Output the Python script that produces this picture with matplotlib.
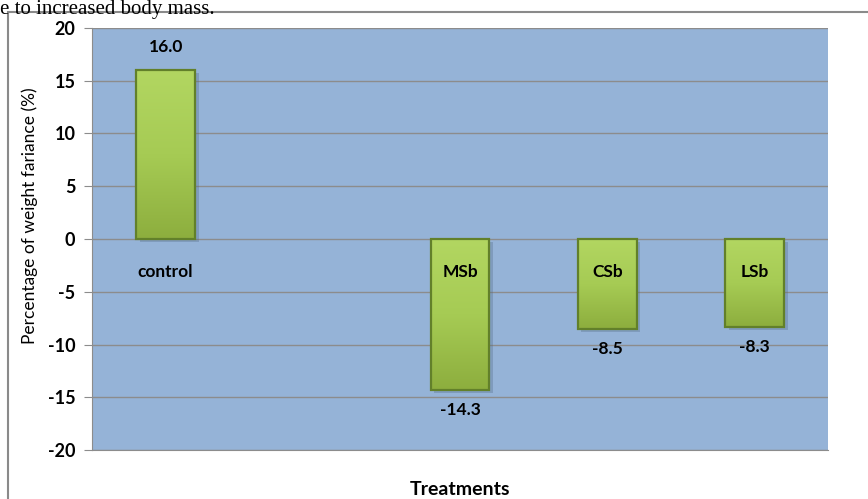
import numpy as np
import matplotlib.pyplot as plt
from matplotlib.patches import Rectangle
from matplotlib.colors import LinearSegmentedColormap

# data (second slot is empty in the original)
treatments = ['control', '', 'MSb', 'CSb', 'LSb']
values = [16.0, np.nan, -14.3, -8.5, -8.3]
yticks = [20, 15, 10, 5, 0, -5, -10, -15, -20]

plt.rcParams['font.family'] = ['Lato', 'DejaVu Sans']

fig = plt.figure(figsize=(8.68, 4.99), dpi=100)
ax = fig.add_axes([0.106, 0.098, 0.848, 0.846])

# outer chart frame and the caption line above it
fig.patches.append(Rectangle((8 / 868, -0.05), 1.0, 1 - 12 / 499 + 0.05,
                             transform=fig.transFigure, fill=False,
                             edgecolor='#8a8a8a', linewidth=1.5))
fig.text(0.0, 0.999, 'e to increased body mass.', family='Liberation Serif',
         fontsize=15, ha='left', va='top')

ax.set_facecolor('#95B3D7')
green = LinearSegmentedColormap.from_list('g', ['#8DAE3E', '#A6CB54', '#B2D661'])
grad = np.linspace(0, 1, 100).reshape(-1, 1)

x = np.arange(len(treatments))
w = 0.4
for xi, v in zip(x, values):
    if np.isnan(v):
        continue
    # soft shadow
    ax.bar(xi + 0.025, v, width=w, bottom=-0.3, color='#4f6680', alpha=0.3,
           zorder=2, linewidth=0)
    b = ax.bar(xi, v, width=w, color='none', edgecolor='#62802A',
               linewidth=1.6, zorder=4)[0]
    lo, hi = min(0, v), max(0, v)
    im = ax.imshow(grad, cmap=green, aspect='auto', origin='lower',
                   extent=[xi - w / 2, xi + w / 2, lo, hi], zorder=3)
    im.set_clip_path(b)

# value labels
for xi, v in zip(x, values):
    if np.isnan(v):
        continue
    yy = v + 2.2 if v > 0 else v - 1.9
    ax.text(xi, yy, f'{v:.1f}', ha='center', va='center',
            fontsize=12.5, fontweight='bold')
# category labels near zero
for xi, name in zip(x, treatments):
    if name:
        ax.text(xi, -3.1, name, ha='center', va='center',
                fontsize=12.5, fontweight='bold', zorder=5)

ax.set_xlim(-0.5, len(treatments) - 0.5)
ax.set_ylim(-20, 20)
ax.set_yticks(yticks)
ax.set_yticklabels([str(t) for t in yticks], fontsize=13, fontweight='bold')
ax.set_xticks([])
ax.grid(axis='y', color='#8c8c8c', linewidth=1, zorder=1)
ax.set_axisbelow(True)
ax.tick_params(axis='y', length=6, color='#8c8c8c', pad=6)
for s in ['top', 'right']:
    ax.spines[s].set_visible(False)
for s in ['left', 'bottom']:
    ax.spines[s].set_color('#8c8c8c')

ax.set_ylabel('Percentage of weight fariance (%)', fontsize=12.5)
ax.yaxis.set_label_coords(-0.073, 0.555)
ax.set_xlabel('Treatments', fontsize=14, fontweight='bold', labelpad=22)

fig.savefig('out.png', dpi=100)
